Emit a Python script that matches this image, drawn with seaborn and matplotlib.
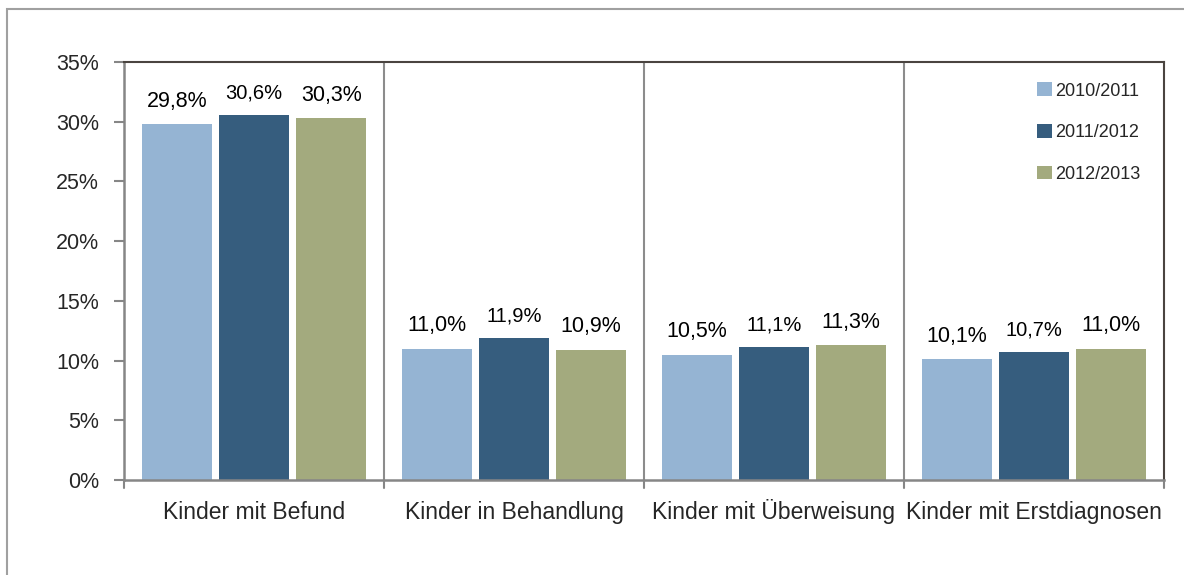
import pandas as pd
import numpy as np
import matplotlib
matplotlib.use("Agg")
import matplotlib.pyplot as plt
import seaborn as sns
from matplotlib.patches import Rectangle

# chart data
categories = ["Kinder mit Befund", "Kinder in Behandlung", "Kinder mit Überweisung", "Kinder mit Erstdiagnosen"]
years = ["2010/2011", "2011/2012", "2012/2013"]
values_2010 = [29.8, 11.0, 10.5, 10.1]
values_2011 = [30.6, 11.9, 11.1, 10.7]
values_2012 = [30.3, 10.9, 11.3, 11.0]
yticks = [0, 5, 10, 15, 20, 25, 30, 35]

colors = ["#95B4D3", "#365D7E", "#A3AA7E"]

df = pd.DataFrame({
    "Kategorie": categories * 3,
    "Jahr": [years[0]] * 4 + [years[1]] * 4 + [years[2]] * 4,
    "Wert": values_2010 + values_2011 + values_2012})

sns.set_style("white")
plt.rcParams["font.family"] = ["Liberation Sans", "DejaVu Sans"]

fig = plt.figure(figsize=(11.84, 5.75), dpi=100)
ax = fig.add_axes([124 / 1184, 1 - 480 / 575, 1040 / 1184, 418 / 575])

sns.barplot(data=df, x="Kategorie", y="Wert", hue="Jahr", palette=colors,
            width=0.89, gap=0.1, ax=ax, saturation=1, edgecolor="none")

# value labels, middle series a bit smaller as in the original
label_sizes = [15.5, 14.5, 15.5]
for cont, fs in zip(ax.containers, label_sizes):
    ax.bar_label(cont, labels=[f"{v:.1f}%".replace(".", ",") for v in cont.datavalues],
                 padding=9, fontsize=fs, color="black")

ax.set_xlim(-0.5, len(categories) - 0.5)
ax.set_ylim(0, 35)
ax.set_yticks(yticks)
ax.set_yticklabels([f"{t}%" for t in yticks], fontsize=15.5)
ax.set_xlabel("")
ax.set_ylabel("")
ax.tick_params(axis="x", labelsize=16.5, length=0, pad=28)
for lbl in ax.get_xticklabels():
    lbl.set_va("baseline")
ax.tick_params(axis="y", direction="out", length=7, width=1.5, color="#868686", pad=11, left=True)

# category separators and bottom tick marks
for b in np.arange(-0.5, len(categories), 1.0):
    if -0.5 < b < len(categories) - 0.5:
        ax.axvline(b, color="#8c8c8c", lw=1.5, zorder=0)
    ax.plot([b, b], [0, -0.02], transform=ax.get_xaxis_transform(), color="#868686",
            lw=1.5, clip_on=False)

for side in ["left", "bottom"]:
    ax.spines[side].set_color("#868686")
    ax.spines[side].set_linewidth(1.8)
for side in ["top", "right"]:
    ax.spines[side].set_color("#4a4440")
    ax.spines[side].set_linewidth(1.5)

leg = ax.legend(loc="upper right", frameon=False, fontsize=13, handlelength=0.8,
                handleheight=0.8, handletextpad=0.2, labelspacing=1.35,
                bbox_to_anchor=(0.993, 0.99))

# outer chart frame
fig.patches.append(Rectangle((7 / 1184, -0.1), 2, 1 - 9 / 575 + 0.1, transform=fig.transFigure,
                             fill=False, edgecolor="#a0a0a0", lw=1.5))

fig.savefig("out.png", dpi=100)
